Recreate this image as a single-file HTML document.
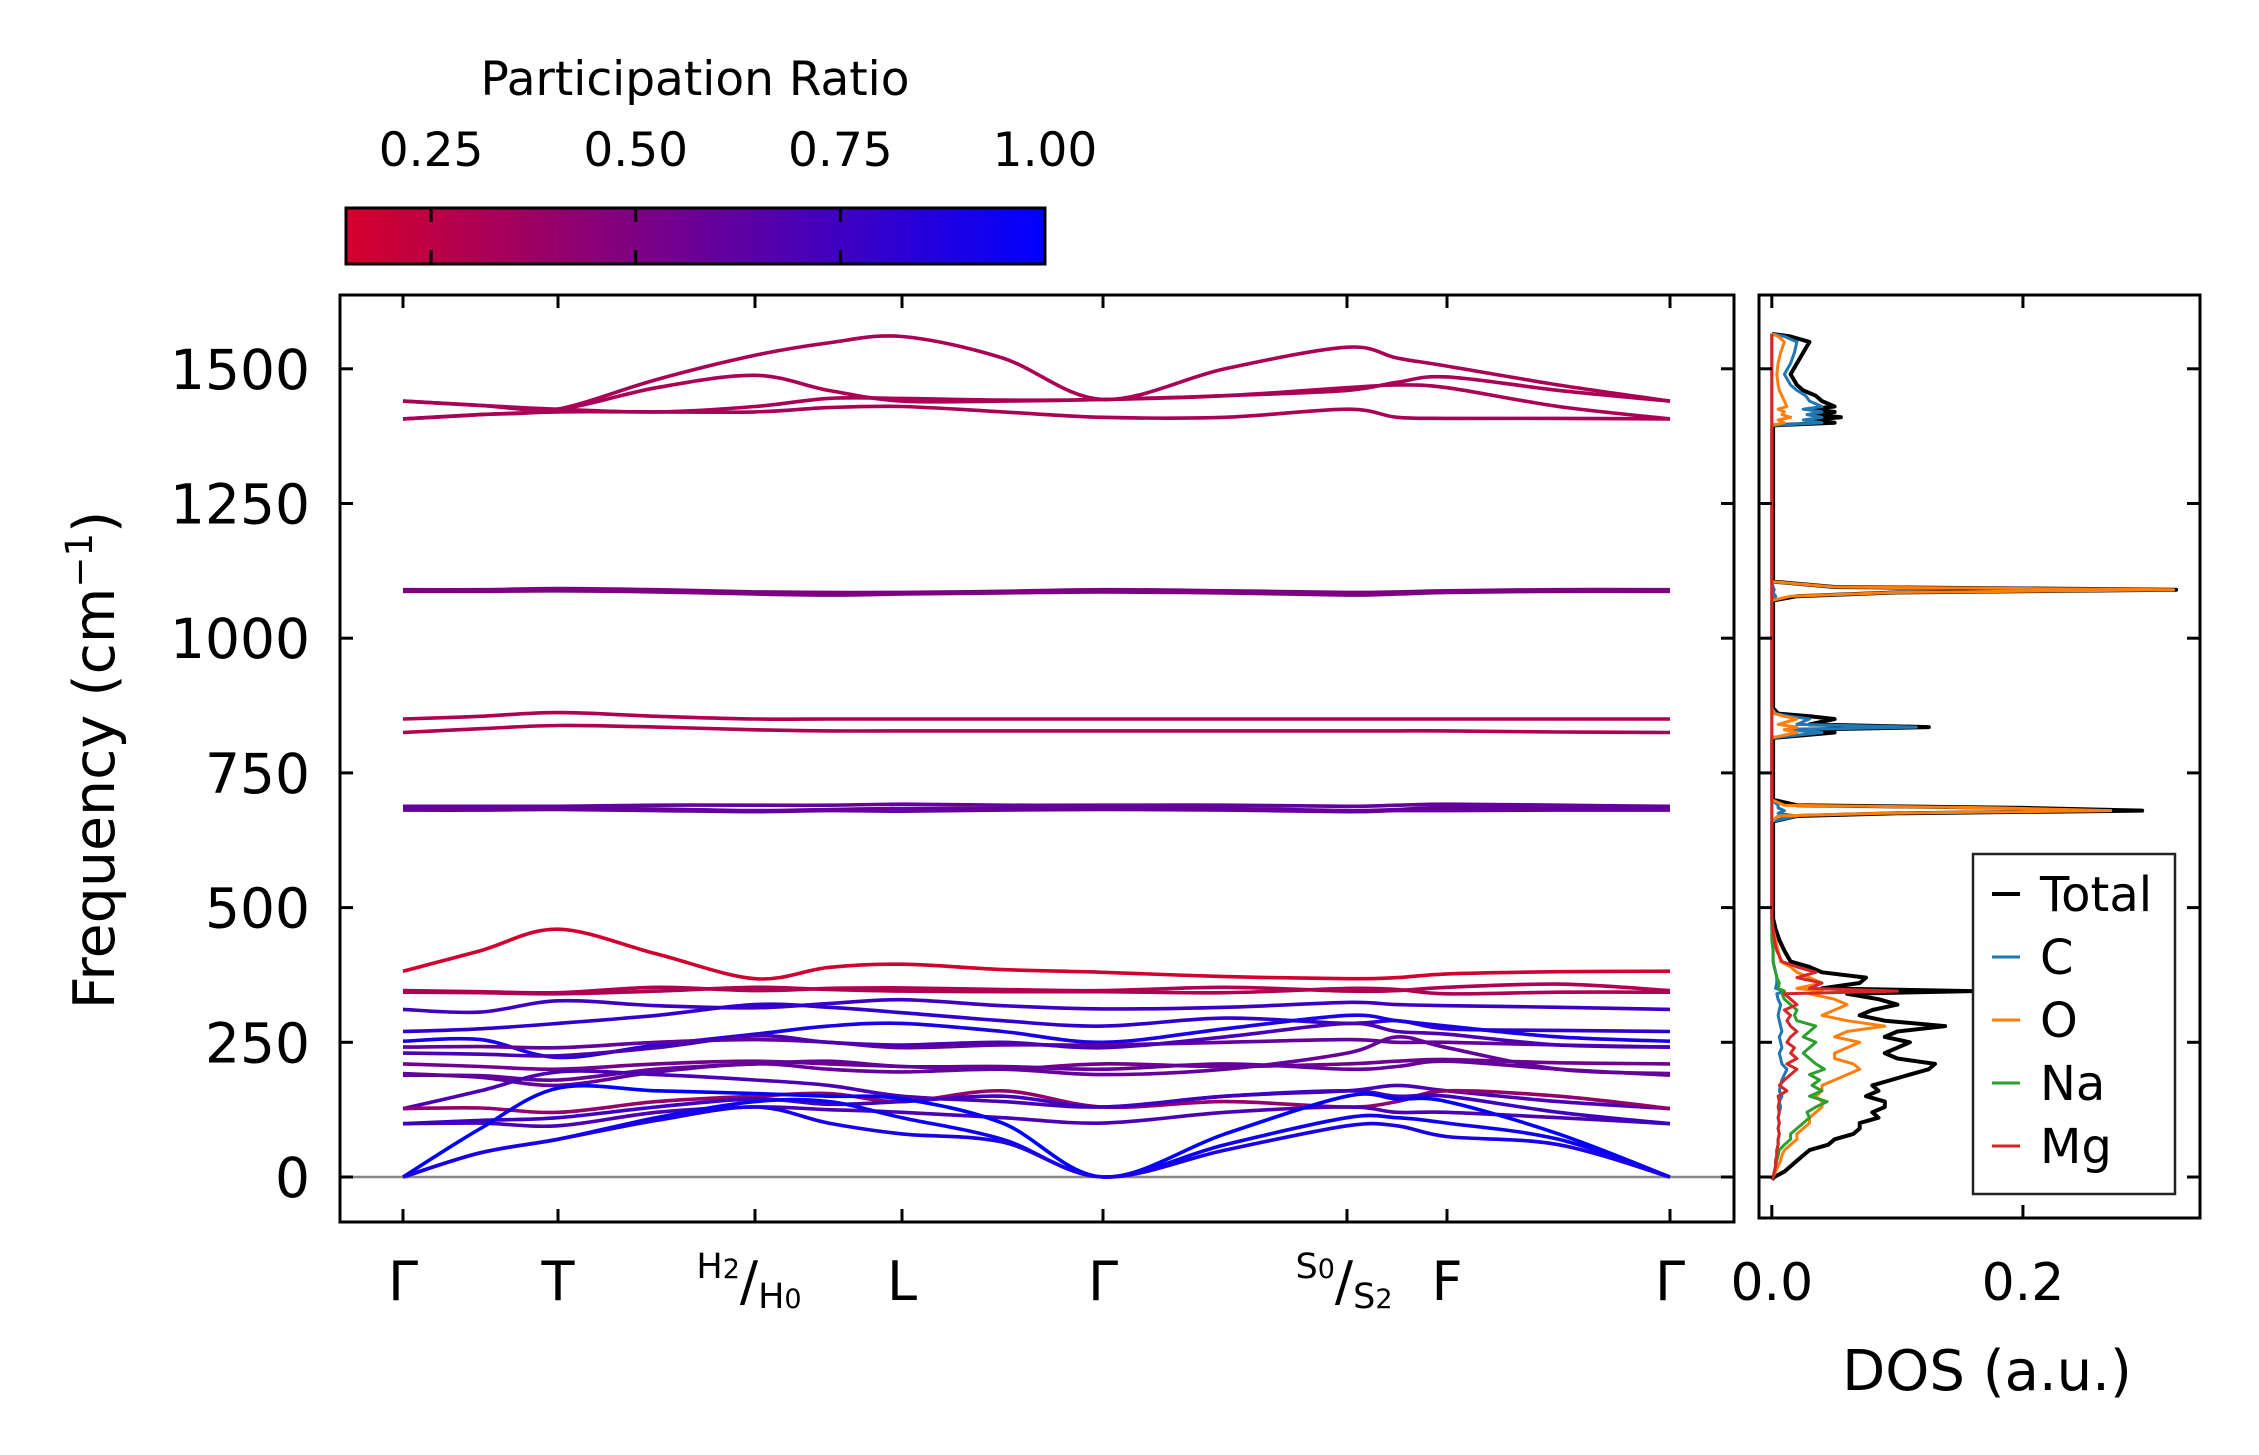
<!DOCTYPE html>
<html><head><meta charset="utf-8"><style>
html,body{margin:0;padding:0;background:#fff;}
svg{display:block;font-family:"DejaVu Sans","Liberation Sans",sans-serif;}
</style></head><body>
<svg id="fig" width="2259" height="1455" viewBox="0 0 2259 1455" xmlns="http://www.w3.org/2000/svg">
<defs>
<linearGradient id="cmap" x1="0" x2="1" y1="0" y2="0">
<stop offset="0" stop-color="rgb(214,0,43)"/><stop offset="1" stop-color="rgb(0,0,255)"/>
</linearGradient>
<clipPath id="mainClip"><rect x="340" y="295" width="1394" height="927"/></clipPath>
<clipPath id="dosClip"><rect x="1759" y="295" width="441" height="923"/></clipPath>
</defs>
<g id="colorbar">
<text x="695" y="95" font-size="47" text-anchor="middle">Participation Ratio</text>
<rect x="346" y="208" width="699" height="56" fill="url(#cmap)" stroke="#000" stroke-width="3"/>
</g>
<g id="bands" clip-path="url(#mainClip)"></g>
<g id="dos" clip-path="url(#dosClip)"></g>
<g id="axes"></g>
<g id="legend"></g>
</svg>
<script>
const kLabels=["Γ","T","H","L","Γ","S","F","Γ"];
const kTicks=[0,1.55,3.52,4.99,7.00,9.44,10.44,12.67];
const freqTicks=[0,250,500,750,1000,1250,1500];
const cbarTicks=[0.25,0.5,0.75,1.0];
const dosTicks=[0.0,0.2];
// band frequencies sampled at 15 nodes (high-symmetry points + midpoints)
const bandFreqs=[
[1407,1415,1425,1480,1525,1548,1560,1520,1443,1500,1540,1520,1505,1470,1440],
[1440,1432,1425,1465,1488,1460,1440,1440,1443,1450,1460,1475,1485,1460,1440],
[1440,1432,1425,1420,1430,1445,1445,1442,1443,1450,1465,1470,1465,1430,1407],
[1407,1415,1420,1420,1420,1428,1430,1420,1410,1410,1425,1410,1408,1408,1407],
[1090,1090,1092,1090,1086,1085,1085,1087,1090,1088,1085,1086,1088,1090,1090],
[1087,1087,1088,1086,1082,1080,1082,1084,1086,1084,1080,1082,1085,1087,1087],
[850,855,862,855,850,850,850,850,850,850,850,850,850,850,850],
[825,832,838,835,830,828,828,828,828,828,828,828,828,826,825],
[688,688,688,690,690,690,692,690,690,690,688,690,692,690,688],
[684,684,684,683,680,682,684,684,684,684,680,682,686,684,684],
[681,681,682,680,678,680,679,681,682,681,678,680,680,681,681],
[382,420,460,414,368,389,395,385,380,372,368,370,377,381,382],
[346,344,342,352,346,350,351,348,346,352,345,346,352,358,346],
[343,342,340,345,352,348,345,344,344,342,350,348,340,343,343],
[311,306,327,318,314,322,329,318,312,315,324,320,318,315,311],
[270,275,285,300,320,315,305,290,280,295,285,290,275,272,270],
[252,255,222,245,265,280,285,270,250,275,300,290,280,260,252],
[241,242,240,250,255,250,240,245,245,250,255,250,250,245,241],
[230,228,225,240,262,250,245,250,240,260,285,270,265,245,241],
[210,205,200,210,215,210,205,200,210,205,210,215,218,212,210],
[192,185,170,195,210,200,195,200,190,200,230,260,240,200,192],
[189,188,180,200,210,215,205,205,200,210,200,205,215,200,189],
[127,160,195,190,180,170,150,140,130,150,160,170,160,140,127],
[127,128,120,140,150,155,140,160,130,140,130,140,160,150,127],
[99,100,95,120,130,125,120,110,100,120,130,120,120,110,99],
[99,105,110,130,145,135,140,150,130,150,160,150,150,120,99],
[0,90,165,160,155,150,145,100,0,80,150,145,140,80,0],
[0,45,70,110,140,140,110,70,0,60,110,110,100,70,0],
[0,45,70,105,130,100,80,65,0,50,95,95,75,60,0]
];
const bandPR=[0.32,0.32,0.32,0.32,0.5,0.5,0.3,0.3,0.6,0.6,0.6,0.16,0.3,0.3,0.75,0.8,0.9,0.6,0.7,0.55,0.6,0.6,0.7,0.4,0.7,0.75,1.0,0.95,0.9];
// DOS
const dosFreq=[-5,0,10,20,30,40,50,60,70,80,90,100,110,120,130,140,150,160,170,180,190,200,210,220,230,240,250,260,270,280,290,300,310,320,330,340,345,350,360,370,380,390,400,420,440,460,480,660,670,675,680,685,690,700,815,825,830,835,840,850,855,860,870,1070,1078,1085,1090,1095,1105,1395,1400,1405,1410,1415,1420,1425,1430,1440,1450,1460,1470,1490,1510,1530,1550,1560,1565];
const dosTotal=[0,0.002,0.01,0.015,0.02,0.025,0.03,0.045,0.05,0.065,0.07,0.07,0.085,0.08,0.09,0.09,0.075,0.085,0.08,0.095,0.11,0.125,0.13,0.1,0.09,0.1,0.11,0.09,0.1,0.138,0.09,0.07,0.08,0.1,0.085,0.06,0.16,0.04,0.07,0.075,0.04,0.03,0.015,0.01,0.006,0.003,0.001,0.001,0.02,0.1,0.295,0.2,0.02,0.001,0.001,0.05,0.02,0.125,0.03,0.05,0.03,0.005,0.001,0.001,0.02,0.1,0.322,0.05,0.001,0.001,0.05,0.03,0.055,0.035,0.05,0.03,0.05,0.04,0.035,0.025,0.02,0.015,0.02,0.025,0.03,0.015,0];
const dosC=[0,0.001,0.002,0.003,0.003,0.004,0.004,0.005,0.005,0.006,0.005,0.006,0.005,0.006,0.007,0.006,0.008,0.006,0.007,0.008,0.01,0.012,0.008,0.007,0.006,0.008,0.007,0.006,0.008,0.007,0.006,0.005,0.006,0.007,0.005,0.004,0.01,0.003,0.004,0.004,0.003,0.002,0.001,0.001,0.001,0,0,0,0.02,0.005,0.01,0.005,0.005,0,0,0.04,0.01,0.115,0.02,0.03,0.015,0.003,0,0,0.003,0.001,0.002,0.001,0,0,0.04,0.025,0.04,0.028,0.04,0.025,0.04,0.03,0.027,0.02,0.015,0.01,0.015,0.018,0.02,0.01,0];
const dosO=[0,0.001,0.003,0.005,0.007,0.008,0.01,0.015,0.02,0.02,0.025,0.03,0.03,0.035,0.04,0.04,0.035,0.04,0.04,0.05,0.06,0.07,0.065,0.05,0.05,0.06,0.07,0.05,0.06,0.09,0.06,0.04,0.05,0.06,0.05,0.03,0.04,0.02,0.04,0.03,0.02,0.015,0.007,0.005,0.003,0.001,0,0,0.005,0.09,0.27,0.18,0.01,0,0,0.02,0.01,0.02,0.005,0.02,0.01,0.002,0,0,0.015,0.1,0.32,0.05,0,0,0.01,0.005,0.015,0.008,0.01,0.005,0.012,0.01,0.008,0.006,0.005,0.004,0.005,0.007,0.01,0.005,0];
const dosNa=[0,0.001,0.002,0.003,0.004,0.005,0.006,0.01,0.015,0.015,0.02,0.025,0.03,0.028,0.035,0.044,0.03,0.04,0.032,0.038,0.03,0.042,0.035,0.03,0.025,0.03,0.035,0.025,0.03,0.035,0.02,0.018,0.02,0.015,0.01,0.008,0.01,0.005,0.006,0.004,0.003,0.002,0.001,0.001,0,0,0,0,0,0,0,0,0,0,0,0,0,0,0,0,0,0,0,0,0,0,0,0,0,0,0,0,0,0,0,0,0,0,0,0,0,0,0,0,0,0,0];
const dosMg=[0,0.001,0.002,0.003,0.003,0.004,0.004,0.005,0.005,0.006,0.005,0.006,0.005,0.006,0.005,0.006,0.005,0.012,0.006,0.01,0.015,0.02,0.012,0.02,0.015,0.018,0.012,0.015,0.02,0.015,0.012,0.015,0.01,0.02,0.015,0.01,0.1,0.03,0.04,0.02,0.035,0.02,0.008,0.004,0.002,0.001,0,0,0,0,0,0,0,0,0,0,0,0,0,0,0,0,0,0,0,0,0,0,0,0,0,0,0,0,0,0,0,0,0,0,0,0,0,0,0,0,0];

const NS="http://www.w3.org/2000/svg";
const M={x0:340,x1:1734,y0:295,y1:1222};
const D={x0:1759,x1:2200};
const kMin=-0.63,kMax=13.31;
function xK(k){return M.x0+(k-kMin)/(kMax-kMin)*(M.x1-M.x0);}
function yF(f){return 1177-f*0.5388;}
const dosXMin=-0.0102,dosXMax=0.341;
function xD(v){return D.x0+(v-dosXMin)/(dosXMax-dosXMin)*(D.x1-D.x0);}
const prMin=0.146,prMax=1.0;
function xPR(v){return 346+(v-prMin)/(prMax-prMin)*699;}
function prColor(v){const t=Math.max(0,Math.min(1,(v-prMin)/(prMax-prMin)));return `rgb(${Math.round(214*(1-t))},0,${Math.round(43+212*t)})`;}
function nodeK(i){const a=Math.floor(i/2);if(i%2===0)return kTicks[a];return (kTicks[a]+kTicks[a+1])/2;}
function mk(tag,attrs,parent){const e=document.createElementNS(NS,tag);for(const k in attrs)e.setAttribute(k,attrs[k]);parent.appendChild(e);return e;}
function smoothPath(pts){let d=`M${pts[0][0].toFixed(1)},${pts[0][1].toFixed(1)}`;for(let i=0;i<pts.length-1;i++){const p0=pts[Math.max(0,i-1)],p1=pts[i],p2=pts[i+1],p3=pts[Math.min(pts.length-1,i+2)];const c1=[p1[0]+(p2[0]-p0[0])/6,p1[1]+(p2[1]-p0[1])/6];const c2=[p2[0]-(p3[0]-p1[0])/6,p2[1]-(p3[1]-p1[1])/6];d+=` C${c1[0].toFixed(1)},${c1[1].toFixed(1)} ${c2[0].toFixed(1)},${c2[1].toFixed(1)} ${p2[0].toFixed(1)},${p2[1].toFixed(1)}`;}return d;}

const bandsG=document.getElementById('bands');
const zl=mk('line',{x1:M.x0,x2:M.x1,y1:yF(0),y2:yF(0),stroke:'#888',"stroke-width":2.5},bandsG);


bandFreqs.forEach((fr,b)=>{
  const pts=fr.map((f,i)=>[xK(nodeK(i)),yF(f)]);
  const p=mk('path',{d:smoothPath(pts),fill:'none',stroke:prColor(bandPR[b]),"stroke-width":3.6,"stroke-linejoin":'round'},bandsG);
  
  
});

const dosG=document.getElementById('dos');
const series=[[dosC,'#1f77b4','C'],[dosO,'#ff7f0e','O'],[dosNa,'#2ca02c','Na'],[dosMg,'#d62728','Mg']];
function dosPath(vals){return vals.map((v,i)=>(i?'L':'M')+xD(v).toFixed(1)+','+yF(dosFreq[i]).toFixed(1)).join(' ');}
const tp=mk('path',{d:dosPath(dosTotal),fill:'none',stroke:'#000',"stroke-width":4,"stroke-linejoin":'round'},dosG);


series.forEach(s=>{
  const p=mk('path',{d:dosPath(s[0]),fill:'none',stroke:s[1],"stroke-width":3,"stroke-linejoin":'round'},dosG);
  
  
});

const ax=document.getElementById('axes');
const fr1=mk('rect',{x:M.x0,y:M.y0,width:M.x1-M.x0,height:M.y1-M.y0,fill:'none',stroke:'#000',"stroke-width":3},ax);


const fr2=mk('rect',{x:D.x0,y:M.y0,width:D.x1-D.x0,height:1218-M.y0,fill:'none',stroke:'#000',"stroke-width":3},ax);


const TL=13;
freqTicks.forEach(f=>{
  const y=yF(f);
  [[M.x0,1],[M.x1,-1],[D.x0,1],[D.x1,-1]].forEach(([x,s])=>mk('line',{x1:x,x2:x+s*TL,y1:y,y2:y,stroke:'#000',"stroke-width":3},ax));
  const t=mk('text',{x:M.x0-30,y:y+20,"font-size":55,"text-anchor":'end'},ax);
  t.textContent=String(f);
  
  
});
kTicks.forEach((k,i)=>{
  const x=xK(k);
  mk('line',{x1:x,x2:x,y1:M.y0,y2:M.y0+TL,stroke:'#000',"stroke-width":3},ax);
  mk('line',{x1:x,x2:x,y1:M.y1,y2:M.y1-TL,stroke:'#000',"stroke-width":3},ax);
  const t=mk('text',{x:x,y:1300,"font-size":54,"text-anchor":'middle'},ax);
  if(i===2){t.innerHTML='<tspan font-size="35" dy="-22">H</tspan><tspan font-size="27">2</tspan><tspan font-size="54" dy="22">/</tspan><tspan font-size="35" dy="8">H</tspan><tspan font-size="27">0</tspan>';}
  else if(i===5){t.innerHTML='<tspan font-size="35" dy="-22">S</tspan><tspan font-size="27">0</tspan><tspan font-size="54" dy="22">/</tspan><tspan font-size="35" dy="8">S</tspan><tspan font-size="27">2</tspan>';}
  else t.textContent=kLabels[i];
  if(i===2)t.setAttribute('x',x-6);
  if(i===5)t.setAttribute('x',x-3);
  
  
});
dosTicks.forEach(v=>{
  const x=xD(v);
  mk('line',{x1:x,x2:x,y1:M.y0,y2:M.y0+TL,stroke:'#000',"stroke-width":3},ax);
  mk('line',{x1:x,x2:x,y1:1218,y2:1218-TL,stroke:'#000',"stroke-width":3},ax);
  const t=mk('text',{x:x,y:1300,"font-size":52,"text-anchor":'middle'},ax);
  t.textContent=v.toFixed(1);
  
  
});
const yl=mk('text',{x:0,y:0,"font-size":57,"text-anchor":'middle',transform:'translate(114,760) rotate(-90)'},ax);
yl.innerHTML='Frequency (cm<tspan font-size="37" dy="-22">−1</tspan><tspan dy="22">)</tspan>';


const xl=mk('text',{x:1987,y:1390,"font-size":56,"text-anchor":'middle'},ax);
xl.textContent='DOS (a.u.)';



const cb=document.getElementById('colorbar');
cbarTicks.forEach(v=>{
  const x=xPR(v);
  if(v<1){mk('line',{x1:x,x2:x,y1:208,y2:222,stroke:'#000',"stroke-width":3},cb);mk('line',{x1:x,x2:x,y1:264,y2:250,stroke:'#000',"stroke-width":3},cb);}
  const t=mk('text',{x:x,y:166,"font-size":47,"text-anchor":'middle'},cb);
  t.textContent=v.toFixed(2);
  
  
});

const lg=document.getElementById('legend');
mk('rect',{x:1973,y:854,width:202,height:340,fill:'#fff',stroke:'#222',"stroke-width":2.5},lg);
const entries=[['Total','#000'],['C','#1f77b4'],['O','#ff7f0e'],['Na','#2ca02c'],['Mg','#d62728']];
entries.forEach((e,i)=>{
  const y=894+i*63;
  const ln=mk('line',{x1:1992,x2:2020,y1:y,y2:y,stroke:e[1],"stroke-width":i===0?4:3},lg);
  
  
  const t=mk('text',{x:2040,y:y+17,"font-size":48},lg);
  t.textContent=e[0];
  
  
});
</script>
</body></html>
